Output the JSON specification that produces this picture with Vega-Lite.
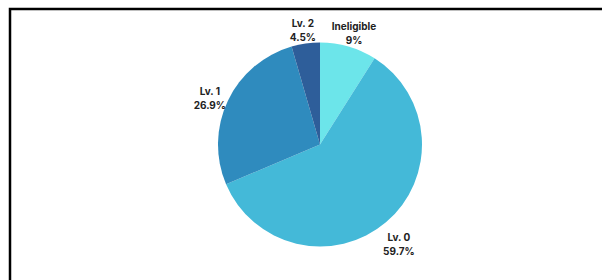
{
  "$schema": "https://vega.github.io/schema/vega-lite/v6.json",
  "width": 602,
  "height": 280,
  "autosize": {"type": "fit", "contains": "padding"},
  "padding": {"left": 10, "top": 9, "right": -28, "bottom": 0},
  "background": "white",
  "view": {"stroke": "#000000", "strokeWidth": 2.5, "fill": null, "strokeDash": [620, 891, 271, 10]},
  "data": {
    "values": [
      {"category": "Ineligible", "value": 9, "order": 1, "label": "Ineligible\n9%"},
      {"category": "Lv. 0", "value": 59.7, "order": 2, "label": "Lv. 0\n59.7%"},
      {"category": "Lv. 1", "value": 26.9, "order": 3, "label": "Lv. 1\n26.9%"},
      {"category": "Lv. 2", "value": 4.5, "order": 4, "label": "Lv. 2\n4.5%"}
    ]
  },
  "encoding": {
    "theta": {"field": "value", "type": "quantitative", "stack": true},
    "order": {"field": "order", "type": "ordinal"}
  },
  "layer": [
    {
      "mark": {"type": "arc", "outerRadius": 102},
      "encoding": {
        "color": {
          "field": "category",
          "type": "nominal",
          "scale": {
            "domain": ["Ineligible", "Lv. 0", "Lv. 1", "Lv. 2"],
            "range": ["#6ce5ea", "#44b9d8", "#2f8bbe", "#2e5e9a"]
          },
          "legend": null
        }
      }
    },
    {
      "mark": {
        "type": "text",
        "radius": 122,
        "font": "Inter",
        "fontWeight": "bold",
        "fontSize": 10,
        "lineHeight": 14,
        "lineBreak": "\n",
        "color": "#222222"
      },
      "encoding": {"text": {"field": "label", "type": "nominal"}}
    }
  ]
}
